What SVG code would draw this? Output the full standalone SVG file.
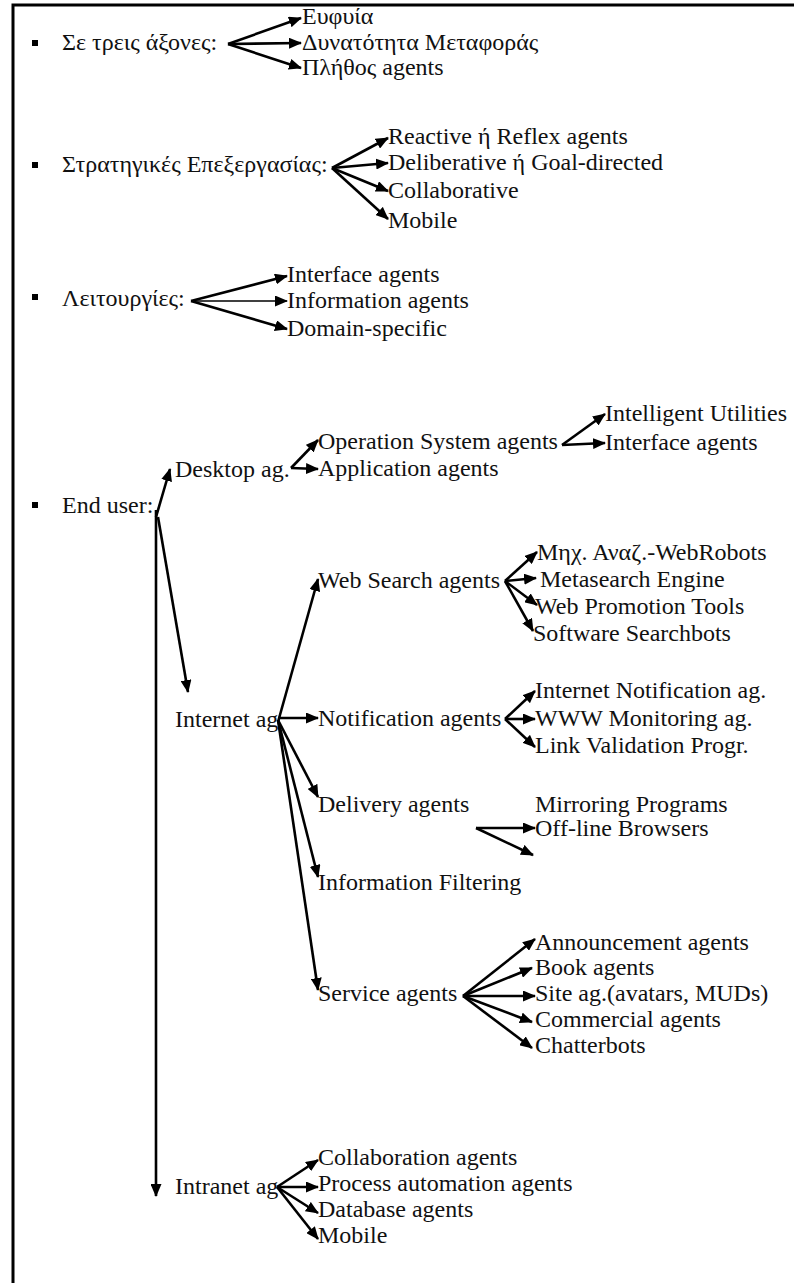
<svg xmlns="http://www.w3.org/2000/svg" width="794" height="1283" viewBox="0 0 794 1283" font-family="'Liberation Serif', 'DejaVu Serif', serif" font-size="24">
<style>
text{font-family:'Liberation Serif','DejaVu Serif',serif;font-size:24px;fill:#111}
.c{stroke:#000;stroke-width:2.6;fill:none;marker-end:url(#ah)}
.t{stroke-width:1.5}
.b{fill:#000}
</style>
<defs>
<marker id="ah" markerWidth="13" markerHeight="11" refX="12" refY="5.5" orient="auto" markerUnits="userSpaceOnUse"><path d="M0,0 L13,5.5 L0,11 z" fill="#000"/></marker>
</defs>
<rect width="794" height="1283" fill="#fff"/>
<g id="frame"><path d="M13,1283 V5 H794" stroke="#000" stroke-width="3" fill="none"/></g>

<g id="n-axes"><rect class="b" x="32" y="40" width="6" height="6"/><text x="62" y="50">Σε τρεις άξονες:</text></g>
<g id="n-eufyia"><text x="302" y="24">Ευφυία</text></g>
<g id="n-metafora"><text x="302" y="50">Δυνατότητα Μεταφοράς</text></g>
<g id="n-plithos"><text x="302" y="75">Πλήθος agents</text></g>

<g id="n-strat"><rect class="b" x="32" y="162" width="6" height="6"/><text x="62" y="172">Στρατηγικές Επεξεργασίας:</text></g>
<g id="n-reactive"><text x="388" y="144">Reactive ή Reflex agents</text></g>
<g id="n-deliberative"><text x="388" y="170">Deliberative ή Goal-directed</text></g>
<g id="n-collab"><text x="388" y="198">Collaborative</text></g>
<g id="n-mobile1"><text x="388" y="228">Mobile</text></g>

<g id="n-leit"><rect class="b" x="32" y="294" width="6" height="6"/><text x="62" y="306">Λειτουργίες:</text></g>
<g id="n-interface1"><text x="287" y="282">Interface agents</text></g>
<g id="n-information"><text x="287" y="308">Information agents</text></g>
<g id="n-domain"><text x="287" y="336">Domain-specific</text></g>

<g id="n-enduser"><rect class="b" x="32" y="502" width="6" height="6"/><text x="62" y="513">End user:</text></g>
<g id="n-desktop"><text x="175" y="477">Desktop ag.</text></g>
<g id="n-os"><text x="318" y="449">Operation System agents</text></g>
<g id="n-app"><text x="318" y="476">Application agents</text></g>
<g id="n-intutil"><text x="605" y="421">Intelligent Utilities</text></g>
<g id="n-interface2"><text x="605" y="450">Interface agents</text></g>

<g id="n-internet"><text x="175" y="727">Internet ag</text></g>
<g id="n-websearch"><text x="318" y="588">Web Search agents</text></g>
<g id="n-webrobots"><text x="537" y="560">Μηχ. Αναζ.-WebRobots</text></g>
<g id="n-metasearch"><text x="540" y="587">Metasearch Engine</text></g>
<g id="n-webpromo"><text x="535" y="614">Web Promotion Tools</text></g>
<g id="n-searchbots"><text x="533" y="641">Software Searchbots</text></g>
<g id="n-notif"><text x="318" y="726">Notification agents</text></g>
<g id="n-inetnotif"><text x="535" y="698">Internet Notification ag.</text></g>
<g id="n-wwwmon"><text x="535" y="726">WWW Monitoring ag.</text></g>
<g id="n-linkval"><text x="535" y="753">Link Validation Progr.</text></g>
<g id="n-delivery"><text x="318" y="812">Delivery agents</text></g>
<g id="n-mirror"><text x="535" y="812">Mirroring Programs</text></g>
<g id="n-offline"><text x="535" y="836">Off-line Browsers</text></g>
<g id="n-filter"><text x="318" y="890">Information Filtering</text></g>
<g id="n-service"><text x="318" y="1001">Service agents</text></g>
<g id="n-announce"><text x="535" y="950">Announcement agents</text></g>
<g id="n-book"><text x="535" y="975">Book agents</text></g>
<g id="n-site"><text x="535" y="1001">Site ag.(avatars, MUDs)</text></g>
<g id="n-commercial"><text x="535" y="1027">Commercial agents</text></g>
<g id="n-chatter"><text x="535" y="1053">Chatterbots</text></g>

<g id="n-intranet"><text x="175" y="1194">Intranet ag</text></g>
<g id="n-collabag"><text x="318" y="1165">Collaboration agents</text></g>
<g id="n-process"><text x="318" y="1191">Process automation agents</text></g>
<g id="n-database"><text x="318" y="1217">Database agents</text></g>
<g id="n-mobile2"><text x="318" y="1243">Mobile</text></g>

<g id="connectors">
<path class="c" d="M228,44 L301,18"/>
<path class="c" d="M228,44 L301,43"/>
<path class="c" d="M228,44 L301,68"/>

<path class="c" d="M332,168 L388,138"/>
<path class="c" d="M332,168 L388,163"/>
<path class="c" d="M332,168 L388,191"/>
<path class="c" d="M332,168 L388,219"/>

<path class="c" d="M191,301 L287,276"/>
<path class="c t" d="M191,301 L287,301"/>
<path class="c" d="M191,301 L287,329"/>

<path class="c" d="M156,517 L170,469"/>
<path class="c" d="M156,510 L156,1196"/>
<path class="c" d="M158,517 L188,692"/>

<path class="c" d="M291,468 L318,440"/>
<path class="c" d="M291,468 L318,469"/>
<path class="c" d="M562,445 L605,414"/>
<path class="c" d="M562,445 L605,443"/>

<path class="c" d="M278,722 L318,579"/>
<path class="c" d="M278,718 L318,718"/>
<path class="c" d="M278,720 L318,797"/>
<path class="c" d="M278,720 L318,877"/>
<path class="c" d="M278,720 L318,990"/>

<path class="c" d="M505,581 L537,552"/>
<path class="c" d="M505,581 L536,578"/>
<path class="c" d="M505,581 L537,605"/>
<path class="c" d="M505,581 L533,631"/>

<path class="c" d="M505,719 L535,691"/>
<path class="c" d="M505,719 L535,719"/>
<path class="c" d="M505,719 L535,747"/>

<path class="c" d="M476,828 L535,828"/>
<path class="c" d="M476,828 L533,855"/>

<path class="c" d="M463,996 L535,939"/>
<path class="c" d="M463,996 L532,968"/>
<path class="c" d="M463,996 L535,996"/>
<path class="c" d="M463,996 L532,1022"/>
<path class="c" d="M463,996 L532,1048"/>

<path class="c" d="M277,1187 L318,1160"/>
<path class="c" d="M277,1187 L318,1187"/>
<path class="c" d="M277,1187 L318,1213"/>
<path class="c" d="M277,1187 L318,1239"/>
</g>
</svg>
